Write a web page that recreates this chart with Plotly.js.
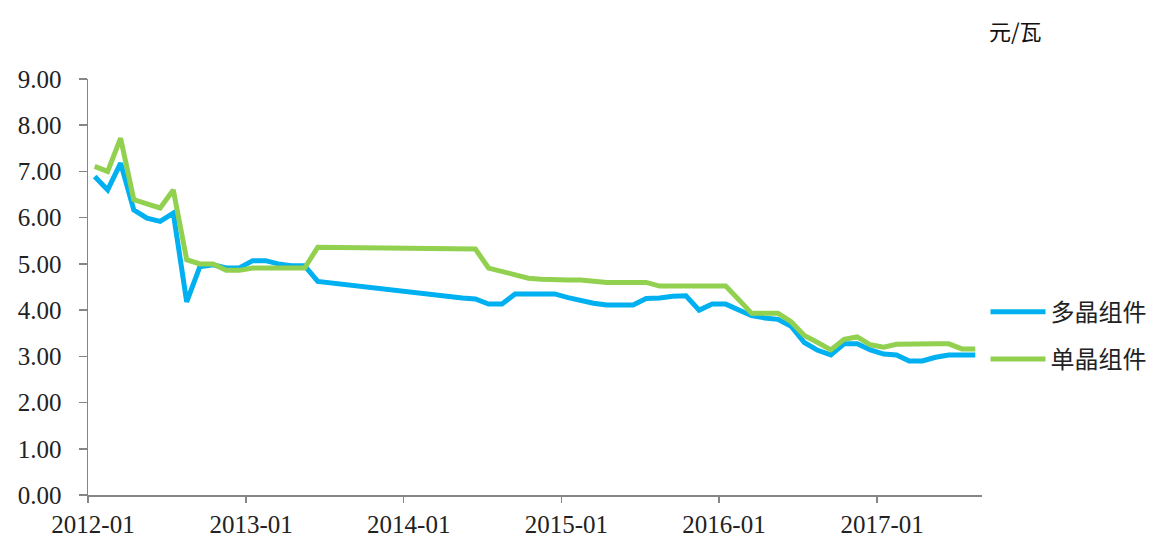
<!DOCTYPE html>
<html>
<head>
<meta charset="utf-8">
<script src="https://cdn.plot.ly/plotly-3.0.1.min.js"></script>
<style>html,body{margin:0;padding:0;background:#fff;}#chart{width:1154px;height:537px;}</style>
</head>
<body>
<div id="chart"></div>
<script>
var months = [
"2012-01","2012-02","2012-03","2012-04","2012-05","2012-06","2012-07","2012-08","2012-09","2012-10","2012-11","2012-12",
"2013-01","2013-02","2013-03","2013-04","2013-05","2013-06","2013-07","2013-08","2013-09","2013-10","2013-11","2013-12",
"2014-01","2014-02","2014-03","2014-04","2014-05","2014-06","2014-07","2014-08","2014-09","2014-10","2014-11","2014-12",
"2015-01","2015-02","2015-03","2015-04","2015-05","2015-06","2015-07","2015-08","2015-09","2015-10","2015-11","2015-12",
"2016-01","2016-02","2016-03","2016-04","2016-05","2016-06","2016-07","2016-08","2016-09","2016-10","2016-11","2016-12",
"2017-01","2017-02","2017-03","2017-04","2017-05","2017-06","2017-07","2017-08"
];
var multiName = "多晶组件";
var monoName = "单晶组件";
var multi = [
6.89,6.60,7.18,6.17,5.99,5.92,6.10,4.18,4.94,4.98,4.91,4.91,
5.07,5.07,5.00,4.96,4.96,4.62,null,null,null,null,null,null,
null,null,null,null,4.26,4.24,4.13,4.13,4.35,4.35,4.35,4.35,
4.27,4.20,4.15,4.11,4.11,4.11,4.25,4.26,4.30,4.31,4.00,4.13,
4.13,3.99,3.88,3.83,3.80,3.65,3.30,3.13,3.03,3.27,3.27,3.14,
3.05,3.03,2.90,2.90,2.98,3.03,3.03,3.03
];
var mono = [
7.11,7.00,7.72,6.39,6.30,6.21,6.60,5.09,5.00,5.00,4.86,4.86,
4.91,4.91,4.91,4.91,4.91,5.36,null,null,null,null,null,null,
null,null,null,null,null,5.32,4.91,4.83,4.75,4.69,4.67,4.65,
4.65,4.65,4.62,4.60,4.60,4.60,4.60,4.52,4.52,4.52,4.52,4.52,
4.52,4.23,3.93,3.93,3.93,3.75,3.45,3.30,3.14,3.37,3.42,3.25,
3.20,3.26,3.27,3.27,3.27,3.27,3.16,3.16
];
var yTicks = [0,1,2,3,4,5,6,7,8,9];
var unitLabel = "元/瓦";

var serif = "Liberation Serif, Times New Roman, serif";
var cjk = "Noto Sans CJK SC, sans-serif";

var traces = [
  {x: months, y: multi, name: multiName, type: "scatter", mode: "lines",
   xperiod: "M1", xperiodalignment: "middle", connectgaps: true,
   legendgroup: "a", line: {color: "#00B0F0", width: 5}},
  {x: months, y: mono, name: monoName, type: "scatter", mode: "lines",
   xperiod: "M1", xperiodalignment: "middle", connectgaps: true,
   legendgroup: "b", line: {color: "#92D050", width: 5}}
];

var layout = {
  width: 1154, height: 537,
  margin: {l: 88, r: 172, t: 79, b: 42, autoexpand: false},
  paper_bgcolor: "#fff", plot_bgcolor: "#fff",
  showlegend: true,
  legend: {xref: "container", yref: "container", x: 0.854, y: 0.375,
    xanchor: "left", yanchor: "middle",
    font: {family: cjk, size: 24, color: "#222"},
    itemwidth: 55, tracegroupgap: 13, traceorder: "grouped"},
  xaxis: {type: "date", range: ["2012-01-01", "2017-09-01"],
    tick0: "2012-01-01", dtick: "M12", tickformat: "%Y-%m",
    showgrid: false, zeroline: false, showline: true, linecolor: "#868686", linewidth: 1.5,
    ticks: "outside", ticklen: 6, tickcolor: "#868686", tickwidth: 1.5,
    ticklabelshift: 5,
    tickfont: {family: serif, size: 25, color: "#222"}},
  yaxis: {range: [0, 9], tickvals: yTicks, tickformat: ".2f",
    showgrid: false, zeroline: false, showline: true, linecolor: "#868686", linewidth: 1.5,
    ticks: "outside", ticklen: 8, tickcolor: "#868686", tickwidth: 1.5,
    ticklabelstandoff: 12,
    tickfont: {family: serif, size: 25, color: "#222"}},
  annotations: [{text: unitLabel, xref: "paper", yref: "paper", x: 1.037, y: 1.118,
    xanchor: "center", yanchor: "middle", showarrow: false,
    font: {family: cjk, size: 22, color: "#111"}}]
};

Plotly.newPlot("chart", traces, layout, {displayModeBar: false, staticPlot: true});
</script>
</body>
</html>
